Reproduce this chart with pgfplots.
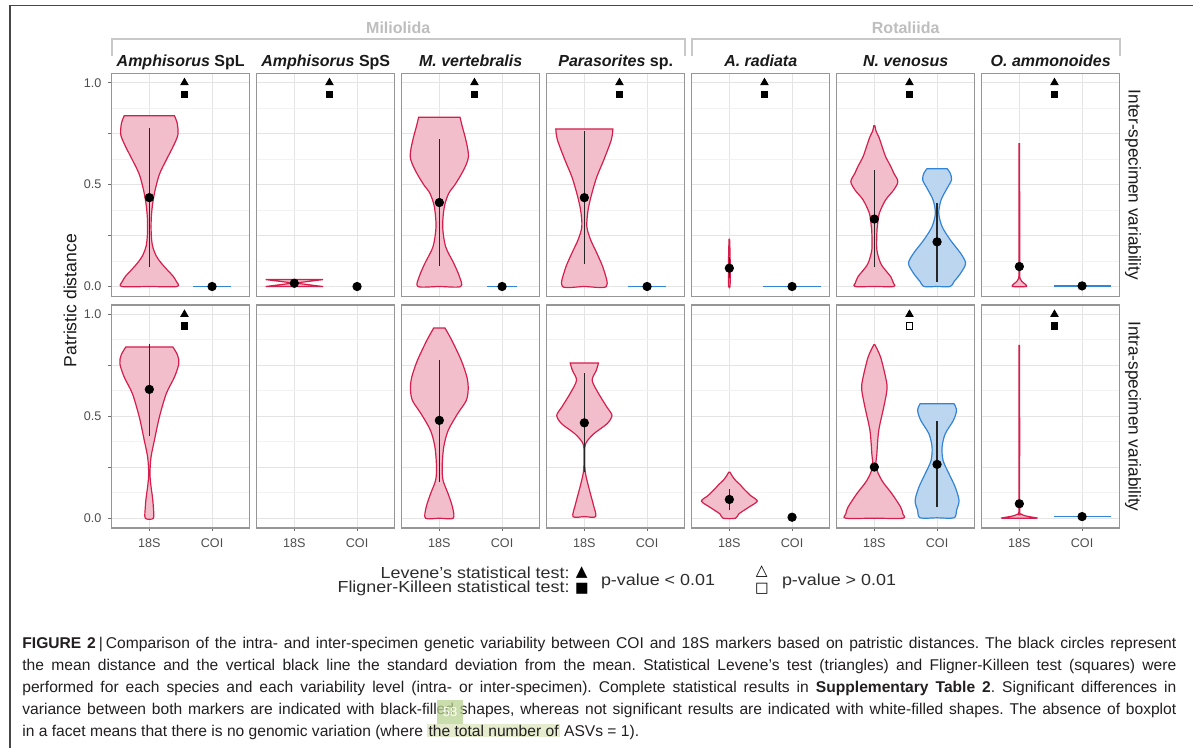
\documentclass[border=0pt]{standalone}
\usepackage{pgfplots}
\pgfplotsset{compat=1.18}
\usepackage{fontspec}
\setmainfont{Liberation Sans}
\newfontfamily\dejavu{DejaVu Sans}
\frenchspacing

\definecolor{rfill}{RGB}{242,190,204}
\definecolor{rline}{RGB}{214,30,76}
\definecolor{bfill}{RGB}{189,214,240}
\definecolor{bline}{RGB}{50,132,214}
\definecolor{panelgray}{RGB}{150,150,150}
\definecolor{gridmaj}{RGB}{228,228,228}
\definecolor{gridmin}{RGB}{242,242,242}
\definecolor{tickgray}{RGB}{110,110,110}
\definecolor{labgray}{RGB}{77,77,77}
\definecolor{hdrgray}{RGB}{190,190,190}
\definecolor{framegray}{RGB}{70,70,70}
\definecolor{txt}{RGB}{26,26,26}
\definecolor{legtxt}{RGB}{45,45,45}
\definecolor{captxt}{RGB}{35,31,32}
\definecolor{hl}{RGB}{228,236,205}
\definecolor{badge}{RGB}{185,210,145}

\pgfplotsset{
  panel/.style={
    scale only axis, width=69pt, height=111.5pt,
    anchor=north west,
    xmin=0.4, xmax=2.6, ymin=-0.048, ymax=1.046,
    axis line style={draw=panelgray, line width=0.6pt},
    xtick={1,2}, ytick={0,0.25,0.5,0.75,1},
    minor ytick={0.125,0.375,0.625,0.875},
    xmajorgrids, ymajorgrids, yminorgrids,
    major grid style={draw=gridmaj, line width=0.55pt},
    minor grid style={draw=gridmin, line width=0.4pt},
    xticklabels={}, yticklabels={},
    tick align=outside, major tick length=1.6pt, minor tick length=0pt,
    xtick pos=bottom, ytick pos=left,
    tick style={draw=tickgray, line width=0.5pt},
    tick label style={font=\fontsize{6.3}{7}\selectfont, text=labgray},
    /pgf/number format/assume math mode=true,
  },
  noy/.style={ytick style={draw=none}},
  nox/.style={xtick style={draw=none}},
  labx/.style={xticklabels={18S,COI}},
  laby/.style={yticklabels={0.0,,0.5,,1.0}},
  r/.style={fill=rfill, draw=rline, line width=0.6pt, smooth, tension=0.5},
  b/.style={fill=bfill, draw=bline, line width=0.6pt, smooth, tension=0.5},
  bl/.style={draw=bline, line width=0.7pt},
}

\newcommand{\sd}[3]{\addplot[black!85, line width=0.8pt] coordinates {(#1,#2) (#1,#3)};}
\newcommand{\mean}[2]{\addplot[only marks, mark=*, mark size=2.1pt, black] coordinates {(#1,#2)};}
\newcommand{\tests}[1]{%
  \addplot[only marks, mark=triangle*, mark size=2.1pt, black] coordinates {(1.56,1.0)};
  \addplot[only marks, mark=square*, mark size=1.55pt, mark options={draw=black, fill=#1, line width=0.5pt}] coordinates {(1.56,0.943)};
}
\newcommand{\wide}[1]{\scalebox{1.12}[1]{#1}}

\begin{document}
\begin{tikzpicture}
\useasboundingbox (0,0) rectangle (596.5pt,-374pt);
\fill[white] (0,0) rectangle (596.5pt,-374pt);
\draw[framegray, line width=0.6pt] (5pt,-374pt) -- (5pt,-2.85pt) -- (596.5pt,-2.85pt);

% group headers
\node[font=\fontsize{8}{9}\selectfont\bfseries, text=hdrgray] at (199.1pt,-14pt) {Miliolida};
\node[font=\fontsize{8}{9}\selectfont\bfseries, text=hdrgray] at (452.85pt,-14pt) {Rotaliida};
\draw[hdrgray!85, line width=1pt] (55.85pt,-28pt) -- (55.85pt,-19.65pt) -- (342.35pt,-19.65pt) -- (342.35pt,-28pt);
\draw[hdrgray!85, line width=1pt] (345.85pt,-28pt) -- (345.85pt,-19.65pt) -- (559.85pt,-19.65pt) -- (559.85pt,-28pt);

% strip labels
\begin{scope}[every node/.style={anchor=base, font=\fontsize{8}{9}\selectfont\bfseries, text=txt}]
\node at (90.35pt,-33.5pt) {\textit{Amphisorus} SpL};
\node at (162.85pt,-33.5pt) {\textit{Amphisorus} SpS};
\node at (235.35pt,-33.5pt) {\textit{M. vertebralis}};
\node at (307.85pt,-33.5pt) {\textit{Parasorites} sp.};
\node at (380.35pt,-33.5pt) {\textit{A. radiata}};
\node at (452.85pt,-33.5pt) {\textit{N. venosus}};
\node at (525.35pt,-33.5pt) {\textit{O. ammonoides}};
\end{scope}
\node[rotate=-90, font=\fontsize{8.6}{10}\selectfont, text=txt] at (566.5pt,-92.45pt) {Inter-specimen variability};
\node[rotate=-90, font=\fontsize{8.6}{10}\selectfont, text=txt] at (566.5pt,-208.25pt) {Intra-specimen variability};
\node[rotate=90, font=\fontsize{8.8}{10}\selectfont, text=txt] at (35pt,-150.35pt) {Patristic distance};

% ---------------- row 1 : inter-specimen ----------------
\begin{axis}[panel, at={(55.85pt,-36.65pt)}, laby, nox]
\addplot[r] coordinates {(0.600,0.838) (0.555,0.800) (0.545,0.744) (0.620,0.687) (0.730,0.621) (0.840,0.550) (0.910,0.470) (0.950,0.400) (0.970,0.330) (0.970,0.260) (0.950,0.200) (0.890,0.150) (0.810,0.115) (0.710,0.080) (0.620,0.050) (0.570,0.025) (0.560,0) (1,0) (1.440,0) (1.430,0.025) (1.380,0.050) (1.290,0.080) (1.190,0.115) (1.110,0.150) (1.050,0.200) (1.030,0.260) (1.030,0.330) (1.050,0.400) (1.090,0.470) (1.160,0.550) (1.270,0.621) (1.380,0.687) (1.455,0.744) (1.445,0.800) (1.400,0.838)} -- cycle;
\sd{1}{0.095}{0.776}
\mean{1}{0.436}
\addplot[bl] coordinates {(1.70,0) (2.30,0)};
\mean{2}{0}
\tests{black}
\end{axis}
\begin{axis}[panel, at={(128.35pt,-36.65pt)}, noy, nox]
\addplot[fill=rfill, draw=rline, line width=0.6pt] coordinates {(0.543,0.034) (0.985,0.017) (0.543,0) (1.457,0) (1.015,0.017) (1.457,0.034)} -- cycle;
\mean{1}{0.016}
\mean{2}{0}
\tests{black}
\end{axis}
\begin{axis}[panel, at={(200.85pt,-36.65pt)}, noy, nox]
\addplot[r] coordinates {(0.670,0.830) (0.630,0.780) (0.590,0.735) (0.550,0.680) (0.535,0.637) (0.570,0.600) (0.640,0.556) (0.750,0.500) (0.850,0.457) (0.920,0.392) (0.947,0.294) (0.900,0.196) (0.770,0.114) (0.680,0.049) (0.660,0) (1,0) (1.340,0) (1.320,0.049) (1.230,0.114) (1.100,0.196) (1.053,0.294) (1.080,0.392) (1.150,0.457) (1.250,0.500) (1.360,0.556) (1.430,0.600) (1.465,0.637) (1.450,0.680) (1.410,0.735) (1.370,0.780) (1.330,0.830)} -- cycle;
\sd{1}{0.101}{0.722}
\mean{1}{0.412}
\addplot[bl] coordinates {(1.76,0) (2.24,0)};
\mean{2}{0}
\tests{black}
\end{axis}
\begin{axis}[panel, at={(273.35pt,-36.65pt)}, noy, nox]
\addplot[r] coordinates {(0.545,0.773) (0.570,0.720) (0.690,0.621) (0.800,0.539) (0.880,0.457) (0.940,0.376) (0.960,0.294) (0.900,0.229) (0.800,0.163) (0.690,0.082) (0.650,0) (1,0) (1.350,0) (1.310,0.082) (1.200,0.163) (1.100,0.229) (1.040,0.294) (1.060,0.376) (1.120,0.457) (1.200,0.539) (1.310,0.621) (1.430,0.720) (1.455,0.773)} -- cycle;
\sd{1}{0.108}{0.763}
\mean{1}{0.436}
\addplot[bl] coordinates {(1.70,0) (2.30,0)};
\mean{2}{0}
\tests{black}
\end{axis}
\begin{axis}[panel, at={(345.85pt,-36.65pt)}, noy, nox]
\addplot[r] coordinates {(0.996,0.232) (0.992,0.200) (0.988,0.150) (0.986,0.100) (0.987,0.050) (0.989,0) (1.011,0) (1.013,0.050) (1.014,0.100) (1.012,0.150) (1.008,0.200) (1.004,0.232)} -- cycle;
\sd{1}{0.04}{0.144}
\mean{1}{0.09}
\addplot[bl] coordinates {(1.543,0) (2.457,0)};
\mean{2}{0}
\tests{black}
\end{axis}
\begin{axis}[panel, at={(418.35pt,-36.65pt)}, noy, nox]
\addplot[r] coordinates {(0.992,0.789) (0.970,0.760) (0.930,0.735) (0.880,0.690) (0.820,0.637) (0.740,0.590) (0.690,0.556) (0.625,0.515) (0.690,0.474) (0.820,0.425) (0.920,0.360) (0.950,0.300) (0.960,0.262) (0.960,0.180) (0.900,0.114) (0.810,0.075) (0.740,0.049) (0.695,0.016) (0.690,0) (1,0) (1.310,0) (1.305,0.016) (1.260,0.049) (1.190,0.075) (1.100,0.114) (1.040,0.180) (1.040,0.262) (1.050,0.300) (1.080,0.360) (1.180,0.425) (1.310,0.474) (1.375,0.515) (1.310,0.556) (1.260,0.590) (1.180,0.637) (1.120,0.690) (1.070,0.735) (1.030,0.760) (1.008,0.789)} -- cycle;
\addplot[b] coordinates {(1.840,0.578) (1.790,0.556) (1.770,0.523) (1.840,0.482) (1.936,0.425) (1.973,0.360) (1.920,0.294) (1.790,0.229) (1.625,0.163) (1.545,0.114) (1.625,0.065) (1.730,0.024) (1.790,0) (2,0) (2.210,0) (2.270,0.024) (2.375,0.065) (2.455,0.114) (2.375,0.163) (2.210,0.229) (2.080,0.294) (2.027,0.360) (2.064,0.425) (2.160,0.482) (2.230,0.523) (2.210,0.556) (2.160,0.578)} -- cycle;
\sd{1}{0.095}{0.572}
\mean{1}{0.331}
\sd{2}{0.024}{0.412}
\mean{2}{0.219}
\tests{black}
\end{axis}
\begin{axis}[panel, at={(490.85pt,-36.65pt)}, noy, nox]
\addplot[r] coordinates {(0.996,0.700) (0.995,0.400) (0.994,0.100) (0.990,0.040) (0.960,0.025) (0.910,0.012) (0.890,0) (1.110,0) (1.090,0.012) (1.040,0.025) (1.010,0.040) (1.006,0.100) (1.005,0.400) (1.004,0.700)} -- cycle;
\mean{1}{0.098}
\addplot[bl, line width=1pt] coordinates {(1.545,0.003) (2.455,0.003)};
\mean{2}{0.003}
\tests{black}
\end{axis}

% ---------------- row 2 : intra-specimen ----------------
\begin{axis}[panel, at={(55.85pt,-152.5pt)}, laby, labx]
\addplot[r] coordinates {(0.625,0.840) (0.550,0.800) (0.530,0.758) (0.600,0.692) (0.730,0.611) (0.840,0.496) (0.920,0.381) (0.973,0.300) (0.990,0.220) (0.975,0.160) (0.950,0.103) (0.936,0.054) (0.936,0) (1.064,0) (1.064,0.054) (1.050,0.103) (1.025,0.160) (1.010,0.220) (1.027,0.300) (1.080,0.381) (1.160,0.496) (1.270,0.611) (1.400,0.692) (1.470,0.758) (1.450,0.800) (1.375,0.840)} -- cycle;
\sd{1}{0.405}{0.856}
\mean{1}{0.632}
\tests{black}
\end{axis}
\begin{axis}[panel, at={(128.35pt,-152.5pt)}, noy, labx]
\addplot[draw=none] coordinates {(1,0.5)};
\end{axis}
\begin{axis}[panel, at={(200.85pt,-152.5pt)}, noy, labx]
\addplot[r] coordinates {(0.910,0.933) (0.800,0.872) (0.650,0.774) (0.560,0.692) (0.540,0.635) (0.570,0.578) (0.710,0.512) (0.860,0.430) (0.930,0.349) (0.955,0.250) (0.940,0.185) (0.860,0.120) (0.790,0.054) (0.780,0) (1,0) (1.220,0) (1.210,0.054) (1.140,0.120) (1.060,0.185) (1.045,0.250) (1.070,0.349) (1.140,0.430) (1.290,0.512) (1.430,0.578) (1.460,0.635) (1.440,0.692) (1.350,0.774) (1.200,0.872) (1.090,0.933)} -- cycle;
\sd{1}{0.177}{0.777}
\mean{1}{0.48}
\end{axis}
\begin{axis}[panel, at={(273.35pt,-152.5pt)}, noy, labx]
\addplot[r] coordinates {(0.775,0.761) (0.810,0.725) (0.875,0.676) (0.770,0.610) (0.640,0.545) (0.560,0.504) (0.640,0.463) (0.850,0.414) (0.980,0.365) (0.994,0.300) (0.985,0.226) (0.930,0.152) (0.860,0.070) (0.820,0.008) (1,0.008) (1.180,0.008) (1.140,0.070) (1.070,0.152) (1.015,0.226) (1.006,0.300) (1.020,0.365) (1.150,0.414) (1.360,0.463) (1.440,0.504) (1.360,0.545) (1.230,0.610) (1.125,0.676) (1.190,0.725) (1.225,0.761)} -- cycle;
\sd{1}{0.226}{0.712}
\mean{1}{0.468}
\end{axis}
\begin{axis}[panel, at={(345.85pt,-152.5pt)}, noy, labx]
\addplot[r] coordinates {(0.990,0.226) (0.950,0.205) (0.900,0.185) (0.830,0.165) (0.770,0.144) (0.660,0.111) (0.555,0.084) (0.690,0.054) (0.850,0.021) (0.900,0) (1.100,0) (1.150,0.021) (1.310,0.054) (1.445,0.084) (1.340,0.111) (1.230,0.144) (1.170,0.165) (1.100,0.185) (1.050,0.205) (1.010,0.226)} -- cycle;
\sd{1}{0.038}{0.144}
\mean{1}{0.092}
\mean{2}{0.005}
\end{axis}
\begin{axis}[panel, at={(418.35pt,-152.5pt)}, noy, labx]
\addplot[r] coordinates {(0.992,0.851) (0.900,0.790) (0.810,0.676) (0.800,0.627) (0.850,0.545) (0.930,0.430) (0.960,0.316) (0.973,0.251) (0.880,0.185) (0.720,0.120) (0.580,0.054) (0.545,0.021) (0.545,0) (1,0) (1.455,0) (1.455,0.021) (1.420,0.054) (1.280,0.120) (1.120,0.185) (1.027,0.251) (1.040,0.316) (1.070,0.430) (1.150,0.545) (1.200,0.627) (1.190,0.676) (1.100,0.790) (1.008,0.851)} -- cycle;
\addplot[b] coordinates {(1.730,0.562) (1.690,0.529) (1.740,0.480) (1.870,0.414) (1.920,0.349) (1.904,0.283) (1.810,0.218) (1.710,0.152) (1.650,0.087) (1.690,0.038) (1.730,0.002) (2,0.002) (2.270,0.002) (2.310,0.038) (2.350,0.087) (2.290,0.152) (2.190,0.218) (2.096,0.283) (2.080,0.349) (2.130,0.414) (2.260,0.480) (2.310,0.529) (2.270,0.562)} -- cycle;
\mean{1}{0.251}
\sd{2}{0.054}{0.475}
\mean{2}{0.264}
\tests{white}
\end{axis}
\begin{axis}[panel, at={(490.85pt,-152.5pt)}, noy, labx]
\addplot[r] coordinates {(0.996,0.848) (0.995,0.400) (0.994,0.050) (0.970,0.020) (0.880,0.010) (0.750,0.003) (0.750,0) (1.250,0) (1.250,0.003) (1.120,0.010) (1.030,0.020) (1.006,0.050) (1.005,0.400) (1.004,0.848)} -- cycle;
\mean{1}{0.071}
\addplot[bl] coordinates {(1.545,0.008) (2.455,0.008)};
\mean{2}{0.008}
\tests{black}
\end{axis}

% ---------------- legend ----------------
\begin{scope}[every node/.style={font=\fontsize{8}{9}\selectfont, text=legtxt, inner sep=0pt}]
\node[anchor=east] at (285pt,-286.3pt) {\wide{Levene's statistical test:}};
\node[anchor=east] at (285pt,-294.3pt) {\wide{Fligner-Killeen statistical test:}};
\node[anchor=west] at (300.3pt,-290.5pt) {\wide{p-value < 0.01}};
\node[anchor=west] at (390.8pt,-290.5pt) {\wide{p-value > 0.01}};
\node[font=\dejavu\fontsize{7.6}{8}\selectfont, text=black] at (290.9pt,-286.3pt) {▲};
\node[font=\dejavu\fontsize{7.2}{8}\selectfont, text=black] at (290.9pt,-294.5pt) {■};
\node[font=\dejavu\fontsize{7.6}{8}\selectfont, text=black] at (380.9pt,-286pt) {△};
\node[font=\dejavu\fontsize{7.2}{8}\selectfont, text=black] at (380.9pt,-294.5pt) {□};
\end{scope}

% ---------------- caption ----------------
\begin{scope}[every node/.style={anchor=base west, inner sep=0pt, font=\fontsize{7.8}{8.5}\selectfont, text=captxt}]
\node at (11pt,-324pt) {\makebox[577pt][s]{\textbf{FIGURE 2}\hspace{1.5pt}|\hspace{1.5pt}Comparison of the intra- and inter-specimen genetic variability between COI and 18S markers based on patristic distances. The black circles represent}};
\node at (11pt,-335pt) {\makebox[577pt][s]{the mean distance and the vertical black line the standard deviation from the mean. Statistical Levene's test (triangles) and Fligner-Killeen test (squares) were}};
\node at (11pt,-346pt) {\makebox[577pt][s]{performed for each species and each variability level (intra- or inter-specimen). Complete statistical results in \textbf{Supplementary Table 2}. Significant differences in}};
\node at (11pt,-357pt) {\makebox[577pt][s]{variance between both markers are indicated with black-filled shapes, whereas not significant results are indicated with white-filled shapes. The absence of boxplot}};
\node at (11pt,-368pt) {in a facet means that there is no genomic variation (where {\setlength\fboxsep{0.6pt}\colorbox{hl}{the total number of}} ASVs = 1).};
\end{scope}
\node[fill=badge, fill opacity=0.75, text opacity=1, text=white, font=\fontsize{6.5}{7}\selectfont, minimum width=13pt, minimum height=12pt, inner sep=0pt] at (225pt,-356pt) {58};
\end{tikzpicture}
\end{document}
